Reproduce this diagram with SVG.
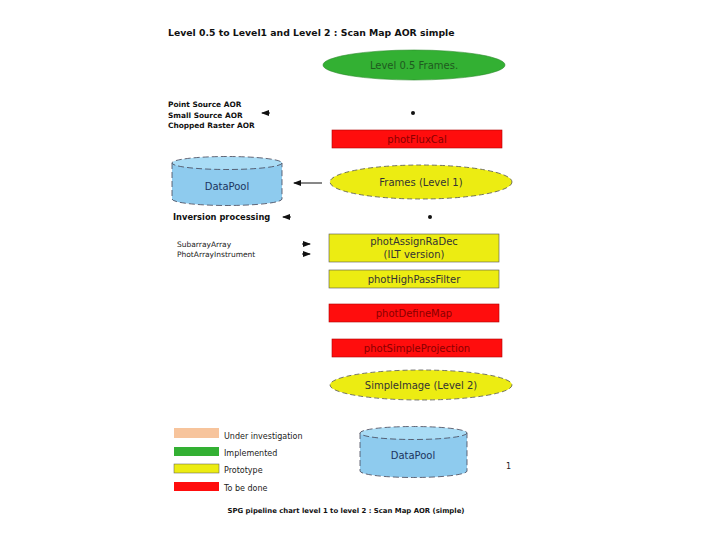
<svg xmlns="http://www.w3.org/2000/svg" width="720" height="540" viewBox="0 0 720 540">
<style>
text{font-family:"DejaVu Sans","Liberation Sans",sans-serif}
.t{font-weight:bold;font-size:9.3px;fill:#111}
.b{font-weight:bold;font-size:7.4px;fill:#111}
.s{font-size:7.5px;fill:#222}
.n{font-size:10px;text-anchor:middle}
.red{fill:#ff0d0d;stroke:#b00000;stroke-width:0.6}
.yel{fill:#ecec12;stroke:#555;stroke-width:0.6}
.ell{stroke:#555;stroke-width:0.8;stroke-dasharray:5,3}
.cyl{fill:#8ecbee;stroke:#445;stroke-width:0.8;stroke-dasharray:6,3}
.cyltop{fill:#a9dcf5;stroke:#445;stroke-width:0.8;stroke-dasharray:6,3}
.lg{font-size:8px;fill:#222}
</style>
<defs>
<marker id="ah" markerWidth="8" markerHeight="6" refX="7" refY="3" orient="auto" markerUnits="userSpaceOnUse">
<path d="M0,0 L8,3 L0,6 z" fill="#111"/>
</marker>
</defs>
<rect width="720" height="540" fill="#fff"/>
<text class="t" x="168" y="36">Level 0.5 to Level1 and Level 2 : Scan Map AOR simple</text>

<g id="level05">
<ellipse cx="414" cy="65" rx="91" ry="15" fill="#33b033" stroke="#2a8a2a" stroke-width="0.6"/>
<text class="n" x="414" y="69" fill="#1f5a1f">Level 0.5 Frames.</text>
</g>

<g id="aor-labels">
<text class="b" x="168" y="107">Point Source AOR</text>
<text class="b" x="168" y="118">Small Source AOR</text>
<text class="b" x="168" y="128">Chopped Raster AOR</text>
</g>

<g id="photFluxCal">
<rect class="red" x="332" y="130" width="170" height="18"/>
<text class="n" x="417" y="143" fill="#8a0000">photFluxCal</text>
</g>

<g id="datapool1">
<path class="cyl" d="M172,163 L172,199 A55,6.5 0 0 0 282,199 L282,163"/>
<ellipse class="cyltop" cx="227" cy="163" rx="55" ry="6.5"/>
<text class="n" x="227" y="190" fill="#1c3560">DataPool</text>
</g>

<g id="frames1">
<ellipse class="ell" cx="421" cy="182" rx="91" ry="17" fill="#ecec12"/>
<text class="n" x="421" y="186" fill="#333">Frames (Level 1)</text>
</g>

<g id="inversion">
<text class="b" x="173" y="220" style="font-size:8.3px">Inversion processing</text>
</g>

<g id="photAssignRaDec">
<rect class="yel" x="329" y="234" width="170" height="28"/>
<text class="n" x="414" y="245" fill="#333">photAssignRaDec</text>
<text class="n" x="414" y="258" fill="#333">(ILT version)</text>
</g>

<g id="inputs">
<text class="s" x="177" y="247">SubarrayArray</text>
<text class="s" x="177" y="257">PhotArrayInstrument</text>
</g>

<g id="photHighPassFilter">
<rect class="yel" x="329" y="270" width="170" height="18"/>
<text class="n" x="414" y="283" fill="#333">photHighPassFilter</text>
</g>

<g id="photDefineMap">
<rect class="red" x="329" y="304" width="170" height="18"/>
<text class="n" x="414" y="317" fill="#8a0000">photDefineMap</text>
</g>

<g id="photSimpleProjection">
<rect class="red" x="332" y="339" width="170" height="18"/>
<text class="n" x="417" y="352" fill="#8a0000">photSimpleProjection</text>
</g>

<g id="simpleImage">
<ellipse class="ell" cx="421" cy="385" rx="91" ry="15" fill="#ecec12"/>
<text class="n" x="421" y="389" fill="#333">SimpleImage (Level 2)</text>
</g>

<g id="datapool2">
<path class="cyl" d="M360,433 L360,471 A53.5,6.5 0 0 0 467,471 L467,433"/>
<ellipse class="cyltop" cx="413.5" cy="433" rx="53.5" ry="6.5"/>
<text class="n" x="413" y="459" fill="#1c3560">DataPool</text>
</g>

<g id="connectors" stroke="#111" stroke-width="1" fill="none">
<line x1="270" y1="113" x2="262" y2="113" marker-end="url(#ah)"/>
<circle cx="413" cy="113" r="2" fill="#111" stroke="none"/>
<line x1="322" y1="183" x2="294" y2="183" marker-end="url(#ah)"/>
<line x1="291" y1="217" x2="283" y2="217" marker-end="url(#ah)"/>
<circle cx="430" cy="217" r="2" fill="#111" stroke="none"/>
<line x1="302" y1="244" x2="310" y2="244" marker-end="url(#ah)"/>
<line x1="302" y1="254" x2="310" y2="254" marker-end="url(#ah)"/>
</g>

<g id="legend">
<rect x="174" y="428" width="45" height="10" fill="#f7c49c"/>
<rect x="174" y="447" width="45" height="9" fill="#33b033"/>
<rect x="174" y="464" width="45" height="9" fill="#ecec12" stroke="#555" stroke-width="0.5"/>
<rect x="174" y="482" width="45" height="9" fill="#ff0d0d"/>
<text class="lg" x="224" y="439">Under investigation</text>
<text class="lg" x="224" y="456">Implemented</text>
<text class="lg" x="224" y="473">Prototype</text>
<text class="lg" x="224" y="491">To be done</text>
</g>

<text class="lg" x="506" y="469">1</text>
<text class="b" x="346" y="513" text-anchor="middle" style="font-size:6.9px">SPG pipeline chart level 1 to level 2 : Scan Map AOR (simple)</text>
</svg>
